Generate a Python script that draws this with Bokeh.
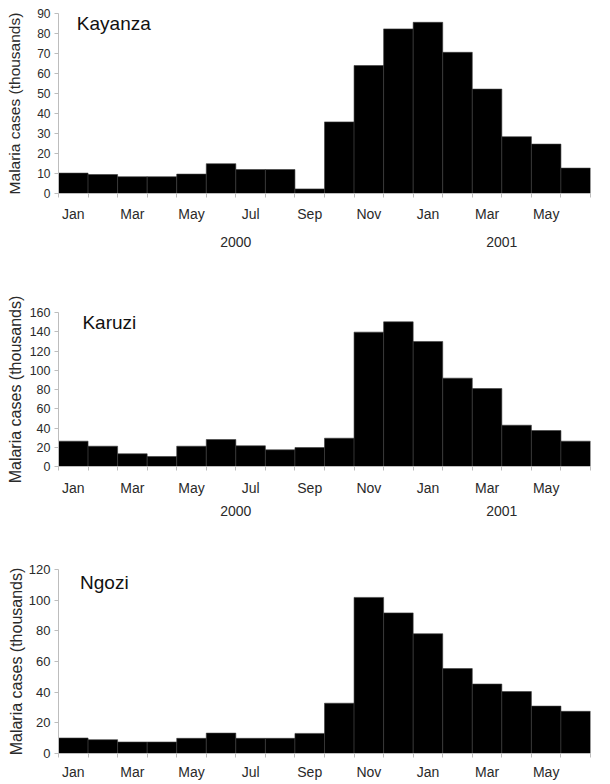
from bokeh.plotting import figure
from bokeh.models import Range1d, FixedTicker, LinearAxis, Label
from bokeh.layouts import column
from bokeh.embed import file_html
from bokeh.resources import INLINE

# ---------------- data ----------------
months = ["Jan", "Feb", "Mar", "Apr", "May", "Jun", "Jul", "Aug", "Sep",
          "Oct", "Nov", "Dec", "Jan", "Feb", "Mar", "Apr", "May", "Jun"]
years = ["2000", "2001"]
year_month_counts = [12, 6]

kayanza = [10.2, 9.5, 8.4, 8.4, 9.7, 14.9, 12.0, 12.0, 2.3, 35.8,
           64.0, 82.3, 85.6, 70.6, 52.2, 28.4, 24.7, 12.7]
karuzi = [26.3, 21.1, 13.2, 10.4, 21.1, 28.0, 21.5, 17.3, 19.7, 29.4,
          139.6, 150.3, 129.9, 91.8, 81.0, 42.9, 37.4, 26.3]
ngozi = [10.1, 9.0, 7.5, 7.5, 9.9, 13.3, 9.9, 9.9, 13.1, 32.8,
         101.8, 91.7, 78.1, 55.4, 45.3, 40.4, 30.9, 27.5]

Y_TITLE = "Malaria cases (thousands)"
FONT = "Liberation Sans"
TXT = "#2a2a2a"
AXC = "#bdbdbd"


def make_panel(name, values, ymax, ystep, width, height, bl, br, bt, bb,
               tick_fs, title_fs, month_standoff, title_xy, title_standoff,
               year_standoff):
    n = len(values)
    p = figure(width=width, height=height, output_backend="svg",
               toolbar_location=None, x_range=Range1d(0, n),
               y_range=Range1d(0, ymax), min_border_left=bl,
               min_border_right=br, min_border_top=bt, min_border_bottom=bb,
               x_axis_location=None)
    p.outline_line_color = None
    p.grid.visible = False
    p.background_fill_color = "white"

    xs = [i + 0.5 for i in range(n)]
    p.vbar(x=xs, width=1, top=values, bottom=0, fill_color="black",
           line_color="#3c3c3c", line_width=0.6)

    # y axis
    ya = p.yaxis[0]
    ya.ticker = FixedTicker(ticks=list(range(0, ymax + 1, ystep)))
    ya.axis_label = Y_TITLE
    ya.axis_label_text_font = FONT
    ya.axis_label_text_font_style = "normal"
    ya.axis_label_text_font_size = title_fs
    ya.axis_label_text_color = TXT
    ya.axis_label_standoff = title_standoff
    ya.major_label_text_font = FONT
    ya.major_label_text_font_size = tick_fs
    ya.major_label_text_color = TXT
    ya.axis_line_color = AXC
    ya.major_tick_line_color = AXC
    ya.major_tick_out = 4
    ya.major_tick_in = 0
    ya.minor_tick_line_color = None
    ya.major_label_standoff = 4

    # month axis
    tick_pos = [i + 0.5 for i in range(0, n, 2)]
    overrides = {i + 0.5: months[i] for i in range(0, n, 2)}
    xa = LinearAxis(ticker=FixedTicker(ticks=tick_pos,
                                       minor_ticks=list(range(0, n + 1))),
                    major_label_overrides=overrides)
    xa.axis_line_color = AXC
    xa.major_tick_line_color = None
    xa.major_tick_out = 0
    xa.major_tick_in = 0
    xa.minor_tick_line_color = AXC
    xa.minor_tick_out = 4
    xa.minor_tick_in = 0
    xa.major_label_text_font = FONT
    xa.major_label_text_font_size = "14px"
    xa.major_label_text_color = TXT
    xa.major_label_standoff = month_standoff
    p.add_layout(xa, "below")

    if year_standoff is not None:
        ypos = []
        start = 0
        for c in year_month_counts:
            ypos.append(start + c / 2)
            start += c
        yov = {pos: yr for pos, yr in zip(ypos, years)}
        ya2 = LinearAxis(ticker=FixedTicker(ticks=ypos, minor_ticks=[]),
                         major_label_overrides=yov)
        ya2.axis_line_color = None
        ya2.major_tick_line_color = None
        ya2.minor_tick_line_color = None
        ya2.major_tick_out = 0
        ya2.major_tick_in = 0
        ya2.major_label_text_font = FONT
        ya2.major_label_text_font_size = "14px"
        ya2.major_label_text_color = TXT
        ya2.major_label_standoff = year_standoff
        p.add_layout(ya2, "below")

    p.add_layout(Label(x=title_xy[0], y=title_xy[1], text=name,
                       text_font=FONT, text_font_size="19px",
                       text_color="#111111", text_baseline="middle",
                       text_align="left"))
    return p


p1 = make_panel("Kayanza", kayanza, 90, 10, 602, 290, 51, 0, 13, 97,
                "12px", "15.5px", 8, (0.62, 85.0), 11, 12)
p2 = make_panel("Karuzi", karuzi, 160, 20, 602, 265, 58, 9, 22, 89,
                "12.5px", "16px", 9, (0.81, 149.5), 3, 7)
p3 = make_panel("Ngozi", ngozi, 120, 20, 602, 227, 58, 12, 14, 27,
                "13px", "16px", 6, (0.73, 111.8), 1, None)

layout = column(p1, p2, p3)
open("out.html", "w").write(file_html(layout, INLINE))
